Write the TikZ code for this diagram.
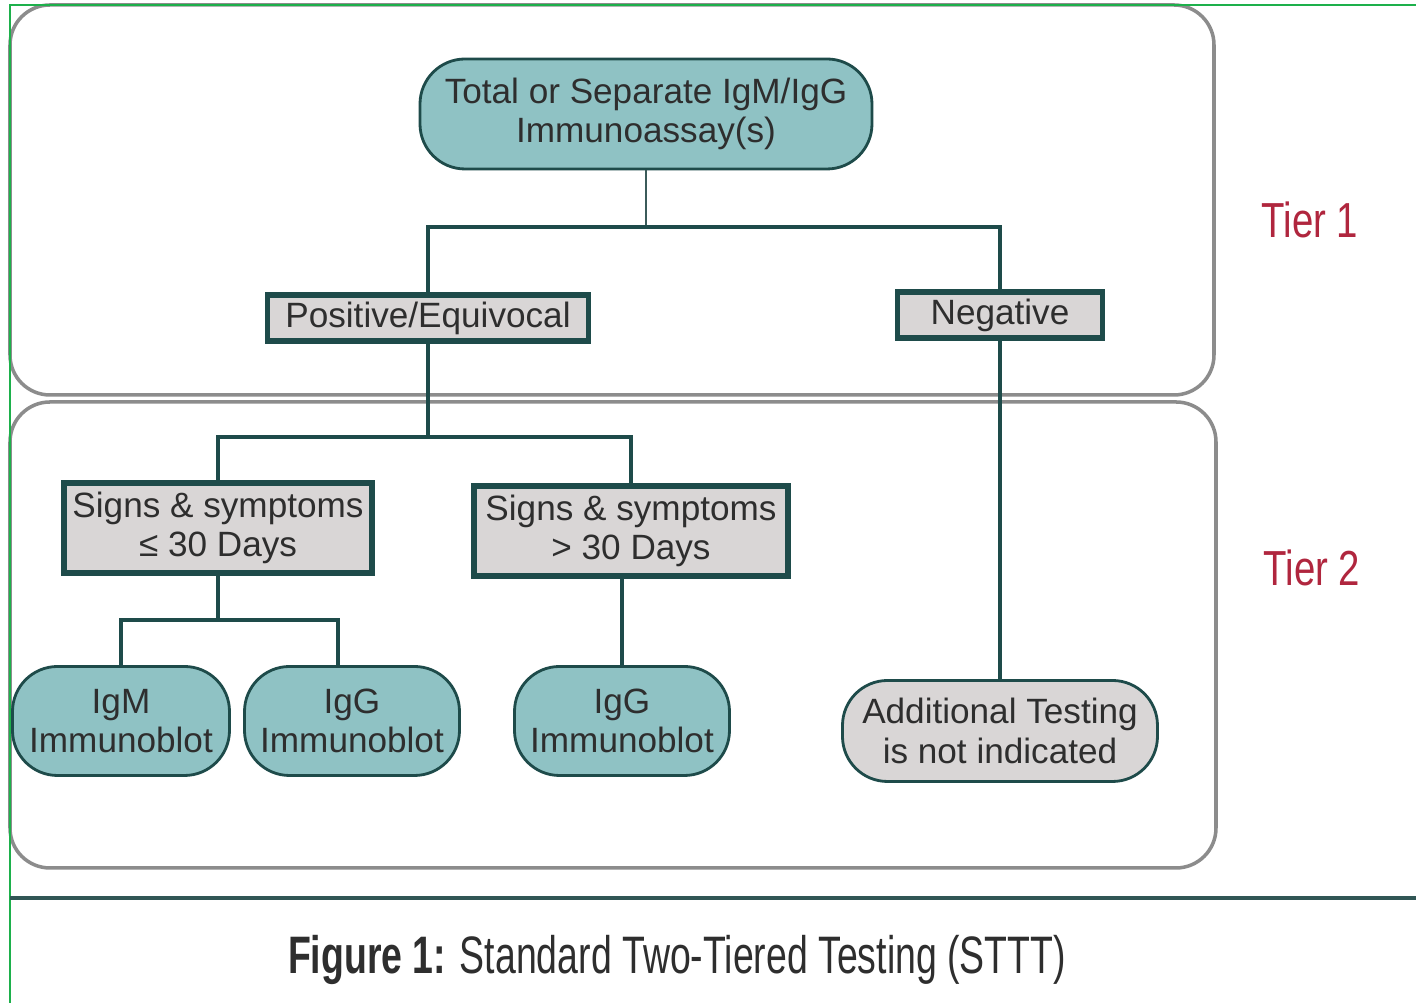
\documentclass[tikz,border=0pt]{standalone}
\usepackage{fontspec}
\setmainfont{Liberation Sans}
\usetikzlibrary{positioning,calc}
\definecolor{dteal}{HTML}{1E4B4A}
\definecolor{tealfill}{HTML}{8FC2C4}
\definecolor{boxgray}{HTML}{D9D6D6}
\definecolor{pnlgray}{HTML}{8C8C8C}
\definecolor{frame}{HTML}{1DB04B}
\definecolor{tier}{HTML}{B0263E}
\definecolor{txt}{HTML}{2E2E2E}
\tikzset{
  pill/.style={draw=dteal, line width=0.8pt, rounded corners=4.5mm, fill=tealfill, align=center,
               font=\fontsize{10}{11.2}\selectfont, text=txt, inner sep=0pt},
  pillgray/.style={pill, fill=boxgray},
  res/.style={draw=dteal, line width=1.5pt, fill=boxgray, align=center,
              font=\fontsize{10}{11.2}\selectfont, text=txt, inner sep=0pt},
  l/.style={draw=dteal, line width=1.1pt},
  stem/.style={draw=dteal!70!gray, line width=0.7pt},
  pnl/.style={draw=pnlgray, line width=1pt, rounded corners=4mm},
  tierlbl/.style={text=tier, font=\fontsize{14}{16}\selectfont},
}

\begin{document}
\begin{tikzpicture}
  \fill[white] (0,0) rectangle (14.16,-10.03);
  \useasboundingbox (0,0) rectangle (14.16,-10.03);
  % tier panels
  \draw[pnl] (0.10,-0.05) rectangle (12.14,-3.95);
  \draw[pnl] (0.10,-4.02) rectangle (12.16,-8.68);
  \node[tierlbl] (t1) at (13.10,-2.20) {\scalebox{0.78}[1]{Tier 1}};
  \node[tierlbl] (t2) at (13.12,-5.68) {\scalebox{0.78}[1]{Tier 2}};
  % nodes
  \node[pill,minimum width=4.52cm,minimum height=1.10cm] (ia) at (6.46,-1.14)
    {Total or Separate IgM/IgG\\Immunoassay(s)};
  \node[res,minimum width=3.21cm,minimum height=0.46cm] (pos) at (4.28,-3.18) {Positive/Equivocal};
  \node[res,minimum width=2.05cm,minimum height=0.46cm] (neg) at (10.0,-3.15) {Negative};
  \node[res,minimum width=3.08cm,minimum height=0.90cm] (early) at (2.18,-5.28)
    {Signs \& symptoms\\≤ 30 Days};
  \node[res,minimum width=3.14cm,minimum height=0.90cm] (late) at (6.31,-5.31)
    {Signs \& symptoms\\> 30 Days};
  \node[pill,minimum width=2.17cm,minimum height=1.09cm] (igm) at (1.21,-7.21) {IgM\\Immunoblot};
  \node[pill,minimum width=2.15cm,minimum height=1.09cm] (igg) at (3.52,-7.21) {IgG\\Immunoblot};
  \node[pill,minimum width=2.15cm,minimum height=1.09cm] (igg2) at (6.22,-7.21) {IgG\\Immunoblot};
  \node[pillgray,minimum width=3.15cm,minimum height=1.01cm] (none) at (10.0,-7.31)
    {Additional Testing\\is not indicated};
  % connectors
  \coordinate (j1) at (6.46,-2.27);
  \coordinate (j2) at (4.28,-4.37);
  \coordinate (j3) at (2.18,-6.20);
  \draw[stem] (ia.south) -- (j1);
  \draw[l] (j1) -| (pos.north);
  \draw[l] (j1) -| (neg.north);
  \draw[l] (pos.south) -- (j2);
  \draw[l] (j2) -| (early.north);
  \draw[l] (j2) -| (late.north);
  \draw[l] (early.south) -- (j3);
  \draw[l] (j3) -| (igm.north);
  \draw[l] (j3) -| ([xshift=-1.4mm]igg.north);
  \draw[l] (igg2.north) -- (igg2.north |- late.south);
  \draw[l] (neg.south) -- (none.north);
  % frame and caption
  \draw[frame, line width=0.7pt] (0.10,-10.03) -- (0.10,-0.05) -- (14.16,-0.05);
  \draw[draw=dteal!80!gray, line width=0.9pt] (0.10,-8.98) -- (14.16,-8.98);
  \node[text=txt] (cap) at (6.77,-9.60)
    {\scalebox{0.71}[1]{\fontsize{15}{17}\selectfont\textbf{Figure 1:} Standard Two-Tiered Testing (STTT)}};
\end{tikzpicture}
\end{document}
